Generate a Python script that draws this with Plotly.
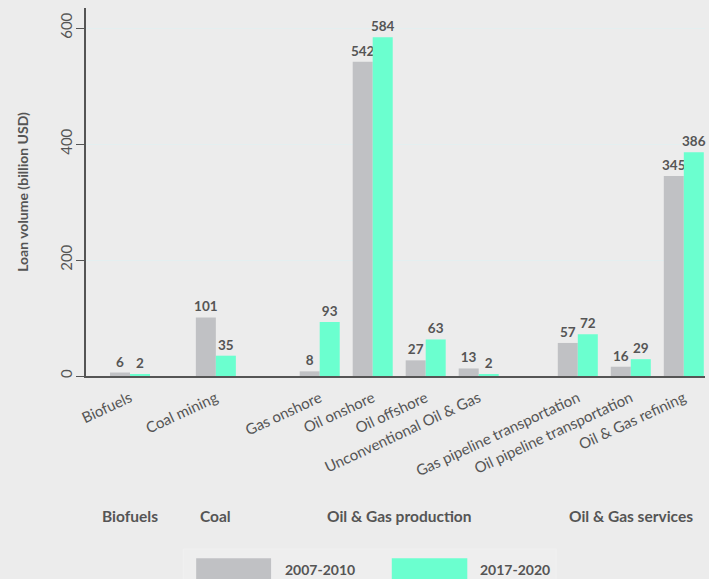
import plotly.graph_objects as go

# Data
categories = ['Biofuels', 'Coal mining', 'Gas onshore', 'Oil onshore', 'Oil offshore',
              'Unconventional Oil & Gas', 'Gas pipeline transportation',
              'Oil pipeline transportation', 'Oil & Gas refining']
groups = ['Biofuels', 'Coal', 'Oil & Gas production', 'Oil & Gas production',
          'Oil & Gas production', 'Oil & Gas production', 'Oil & Gas services',
          'Oil & Gas services', 'Oil & Gas services']
group_names = ['Biofuels', 'Coal', 'Oil & Gas production', 'Oil & Gas services']
period_1 = [6, 101, 8, 542, 27, 13, 57, 16, 345]
period_2 = [2, 35, 93, 584, 63, 2, 72, 29, 386]
series_names = ['2007-2010', '2017-2020']

# extra space before each group (in category units)
group_gap = [0, 0.62, 0.96, 0.87]

xpos = []
offset = 0
prev = None
for i, g in enumerate(groups):
    if g != prev:
        offset += group_gap[group_names.index(g)]
        prev = g
    xpos.append(i + offset)

GREY = '#c0c1c4'
GREEN = '#6bffcf'
TXT = '#555555'
BG = '#ececec'
FONT = 'Lato, PT Sans, sans-serif'

fig = go.Figure()
for name, vals, col in [(series_names[0], period_1, GREY), (series_names[1], period_2, GREEN)]:
    fig.add_trace(go.Bar(
        x=xpos, y=vals, name=name, marker_color=col, marker_line_width=0,
        text=[str(v) for v in vals], textposition='outside', constraintext='none',
        textfont=dict(size=13.5, color=TXT, family=FONT, weight='bold'),
        cliponaxis=False, showlegend=False))

# group labels below the axis
for gname in group_names:
    xs = [xpos[i] for i, g in enumerate(groups) if g == gname]
    fig.add_annotation(x=(min(xs) + max(xs)) / 2, y=-0.41, xref='x', yref='paper',
                       text='<b>%s</b>' % gname, showarrow=False,
                       font=dict(size=15.5, color=TXT, family=FONT))

# hand-made legend
fig.add_shape(type='rect', xref='paper', yref='paper', x0=0.157, x1=0.76, y0=-0.47, y1=-0.6,
              fillcolor='#eeeeee', line=dict(width=1, color='#f0f0f0'), layer='below')
for (x0, x1, tx), name, col in zip([(0.178, 0.299, 0.318), (0.494, 0.616, 0.633)],
                                   series_names, [GREY, GREEN]):
    fig.add_shape(type='rect', xref='paper', yref='paper', x0=x0, x1=x1, y0=-0.495, y1=-0.6,
                  fillcolor=col, line_width=0)
    fig.add_annotation(x=tx, y=-0.554, xref='paper', yref='paper', xanchor='left',
                       text='<b>%s</b>' % name, showarrow=False,
                       font=dict(size=14, color=TXT, family=FONT))

fig.update_layout(
    width=709, height=579,
    margin=dict(l=86, r=4, t=8, b=203, autoexpand=False),
    paper_bgcolor=BG, plot_bgcolor=BG,
    barmode='group', bargap=0.245, bargroupgap=0,
    font=dict(family=FONT, color=TXT),
)
fig.update_xaxes(
    tickvals=xpos, ticktext=categories, tickangle=-25,
    tickfont=dict(size=15, color=TXT), range=[-0.83, 10.85], ticklabelstandoff=6,
    showgrid=False, showline=True, linecolor=TXT, linewidth=1.5, ticks='', zeroline=False)
fig.update_yaxes(
    range=[0, 634.5], tickvals=[0, 200, 400, 600], tickangle=-90,
    tickfont=dict(size=15, color=TXT), ticks='outside', ticklen=8, tickcolor=TXT,
    ticklabelstandoff=-2,
    showline=True, linecolor=TXT, linewidth=1.5, zeroline=False,
    showgrid=True, gridcolor='#e4eff0', gridwidth=1,
    title=dict(text='<b>Loan volume (billion USD)</b>', font=dict(size=14, color=TXT), standoff=25))

fig.write_html('out.html', config={'displayModeBar': False},
               post_script="document.body.style.margin='0';")
